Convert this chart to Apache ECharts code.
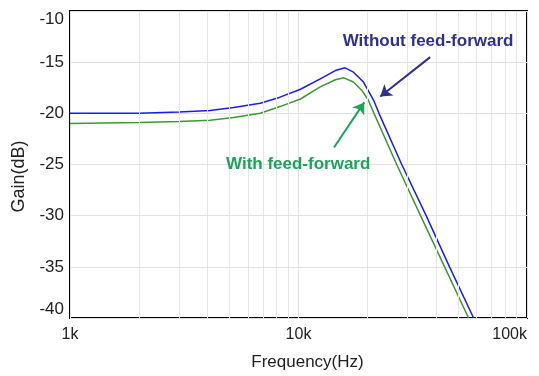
<!DOCTYPE html>
<html>
<head>
<meta charset="utf-8">
<script src="https://cdn.jsdelivr.net/npm/echarts@6/dist/echarts.min.js"></script>
<style>
html,body{margin:0;padding:0;background:#fff;}
#chart{width:539px;height:376px;}
</style>
</head>
<body>
<div id="chart"></div>
<script>
// Frequency (Hz) and gain (dB)
var blueFreq = [1000, 2000, 3000, 4100, 5200, 6800, 8300, 10200, 12450, 14500, 16000, 17400, 19250, 21300, 22500, 28300, 36200, 45800, 58400];
var blueGain = [-20.0, -20.0, -19.88, -19.73, -19.44, -19.02, -18.42, -17.65, -16.63, -15.82, -15.55, -15.98, -16.94, -18.7, -20.0, -25, -30, -35, -40];
var greenFreq = [1000, 2000, 3000, 4100, 5200, 6800, 8300, 10200, 12450, 14500, 15800, 17400, 18900, 20200, 21400, 26900, 34200, 43600, 55500];
var greenGain = [-21.0, -20.9, -20.8, -20.67, -20.4, -20.0, -19.34, -18.6, -17.42, -16.72, -16.53, -16.94, -17.74, -18.7, -20.0, -25, -30, -35, -40];
var minorGridFreq = [2000, 3000, 4000, 5000, 6000, 7000, 8000, 9000, 20000, 30000, 40000, 50000, 60000, 70000, 80000, 90000];
var xTickLabels = {1000: '1k', 10000: '10k', 100000: '100k'};
var seriesNames = ['Without feed-forward', 'With feed-forward'];
// annotation anchors (data coordinates)
var withoutText = [36900, -12.98];
var withoutArrow = [[37700, -14.51], [22800, -18.35]];
var withText = [9970, -24.97];
var withArrow = [[14300, -23.34], [19400, -18.93]];

function zip(a, b) { return a.map(function (v, i) { return [v, b[i]]; }); }

var FONT = "'Liberation Sans', Arial, sans-serif";
var chart = echarts.init(document.getElementById('chart'), null, {renderer: 'canvas'});
chart.setOption({
  animation: false,
  backgroundColor: '#fff',
  grid: {left: 70, right: 12, top: 11, bottom: 52, show: true, borderColor: '#000', borderWidth: 2, backgroundColor: 'transparent'},
  xAxis: {
    type: 'log', logBase: 10, min: 1000, max: 100000,
    name: 'Frequency(Hz)', nameLocation: 'middle', nameGap: 36,
    nameTextStyle: {fontFamily: FONT, fontSize: 17, color: '#222', padding: [0, 0, 0, 18]},
    axisLine: {show: false}, axisTick: {show: false},
    axisLabel: {fontFamily: FONT, fontSize: 16, color: '#222', margin: 9, alignMaxLabel: 'right',
      formatter: function (v) { return xTickLabels[Math.round(v)] || ''; }},
    splitLine: {show: true, lineStyle: {color: '#e2e2e2', width: 1}}
  },
  yAxis: {
    type: 'value', min: -40, max: -10, interval: 5,
    name: 'Gain(dB)', nameLocation: 'middle', nameGap: 39, nameRotate: 90,
    nameTextStyle: {fontFamily: FONT, fontSize: 18, color: '#222', padding: [0, 0, 0, -24]},
    axisLine: {show: false}, axisTick: {show: false},
    axisLabel: {fontFamily: FONT, fontSize: 17, color: '#222', margin: 6,
      verticalAlignMinLabel: 'bottom', verticalAlignMaxLabel: 'top'},
    splitLine: {show: true, lineStyle: {color: '#e2e2e2', width: 1}}
  },
  series: [
    {
      type: 'line', data: [], z: 0, silent: true,
      markLine: {
        silent: true, symbol: ['none', 'none'], animation: false,
        label: {show: false},
        lineStyle: {color: '#e6e6e6', width: 1, type: 'solid'},
        data: minorGridFreq.map(function (f) { return {xAxis: f}; })
      }
    },
    {
      name: seriesNames[0], type: 'line', data: zip(blueFreq, blueGain),
      showSymbol: false, symbol: 'none', z: 3,
      lineStyle: {color: '#1a1aff', width: 1.5}
    },
    {
      name: seriesNames[1], type: 'line', data: zip(greenFreq, greenGain),
      showSymbol: false, symbol: 'none', z: 2,
      lineStyle: {color: '#3b9a2e', width: 1.5}
    },
    {
      type: 'line', data: [], z: 5, silent: true,
      markLine: {
        silent: true, symbol: ['none', 'arrow'], symbolSize: 11, animation: false,
        label: {show: false},
        lineStyle: {type: 'solid', width: 2},
        data: [
          [{coord: withoutArrow[0], lineStyle: {color: '#2e3190', width: 2, type: 'solid'}, itemStyle: {color: '#2e3190'}},
           {coord: withoutArrow[1]}],
          [{coord: withArrow[0], lineStyle: {color: '#1da35a', width: 2, type: 'solid'}, itemStyle: {color: '#1da35a'}},
           {coord: withArrow[1]}]
        ]
      },
      markPoint: {
        silent: true, symbol: 'circle', symbolSize: 0, animation: false,
        data: [
          {coord: withoutText, label: {show: true, position: 'inside', formatter: seriesNames[0],
            fontFamily: FONT, fontSize: 17, fontWeight: 'bold', color: '#2e3190'}},
          {coord: withText, label: {show: true, position: 'inside', formatter: seriesNames[1],
            fontFamily: FONT, fontSize: 17, fontWeight: 'bold', color: '#1da35a'}}
        ]
      }
    }
  ]
});
</script>
</body>
</html>
